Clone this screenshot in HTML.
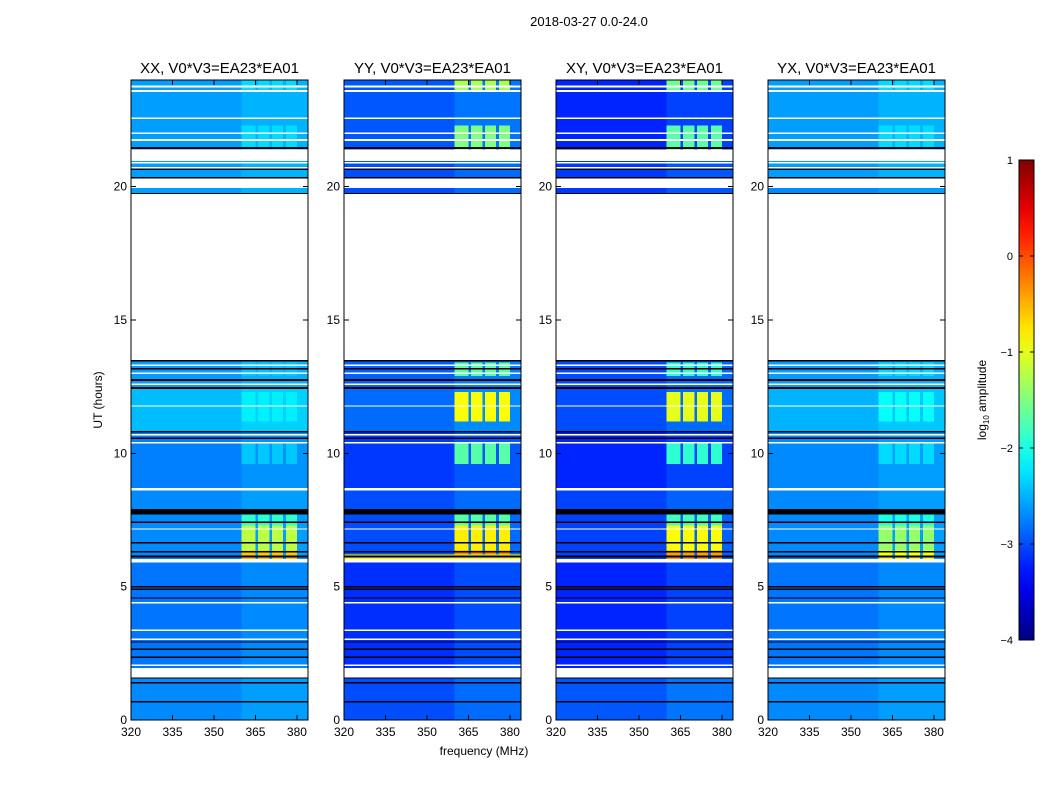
<!DOCTYPE html>
<html><head><meta charset="utf-8">
<style>
html,body{margin:0;padding:0;background:#fff;}
svg{display:block;font-family:"Liberation Sans","DejaVu Sans",sans-serif;}
</style></head>
<body>
<svg id="fig" width="1050" height="800" viewBox="0 0 1050 800">
<text x="589" y="26" font-size="13" text-anchor="middle">2018-03-27 0.0-24.0</text>
<text x="484" y="755" font-size="12" text-anchor="middle">frequency (MHz)</text>
<text transform="translate(102,400) rotate(-90)" font-size="12" text-anchor="middle">UT (hours)</text>
<g id="panels"></g>
<g id="cbar"></g>
</svg>
<script>
// ---- data ----
const panelTitles = ["XX, V0*V3=EA23*EA01","YY, V0*V3=EA23*EA01","XY, V0*V3=EA23*EA01","YX, V0*V3=EA23*EA01"];
const xTicks = [320,335,350,365,380];
const yTicks = [0,5,10,15,20];
const cbarTicks = [-4,-3,-2,-1,0,1];
const segments = [[0,1.6],[1.95,6.0],[6.0,8.66],[8.7,10.8],[10.8,12.45],[12.45,13.5],[19.75,19.95],[20.3,21.4],[21.4,24]];
const levelsXX = [-2.7,-2.8,-2.7,-2.75,-2.45,-2.6,-2.6,-2.6,-2.6];
const levelsYY = [-3.0,-3.15,-3.0,-3.1,-2.85,-2.9,-3.0,-3.0,-2.95];
const levelsXY = [-2.95,-3.2,-3.05,-3.2,-3.0,-3.0,-3.1,-3.1,-3.2];
const levelsYX = [-2.7,-2.8,-2.7,-2.7,-2.5,-2.6,-2.7,-2.6,-2.6];
const broadBand = [360,384];
const broadBoost = [0.1,0.15,0.15,0.1];
const blockFreqs = [[360,365],[366,370],[371,375],[376,380]];
const blockTimes = [[6.0,6.35],[6.35,7.3],[7.3,7.7],[9.6,10.4],[11.2,12.3],[12.9,13.4],[21.4,22.3],[23.55,24]];
const blockXX = [-0.6,-1.2,-1.9,-2.4,-2.2,-2.4,-2.3,-2.3];
const blockYY = [-0.3,-0.8,-1.7,-1.7,-0.9,-1.7,-1.5,-1.3];
const blockXY = [-0.4,-0.9,-1.8,-1.9,-1.0,-1.9,-1.7,-1.6];
const blockYX = [-0.9,-1.4,-2.0,-2.3,-2.1,-2.3,-2.3,-2.3];
const brightLine = [6.04,6.2];
const brightVals = [null,-0.9,null,null];
const whiteRows = [[23.72,23.8],[23.55,23.62],[22.53,22.6],[21.97,22.03],[21.72,21.78],[20.96,21.4],[20.88,20.92],[20.68,20.73],[19.95,20.3],[13.5,19.75],[13.27,13.33],[12.98,13.04],[12.56,12.62],[11.76,11.8],[10.66,10.72],[10.36,10.42],[8.6,8.7],[7.14,7.19],[5.9,6.04],[4.37,4.42],[3.34,3.4],[3.0,3.06],[2.03,2.09],[1.6,1.95]];
const blackRows = [[21.42,21.48],[20.63,20.69],[20.3,20.36],[19.72,19.77],[13.44,13.5],[13.14,13.2],[12.72,12.78],[12.42,12.48],[10.78,10.84],[10.54,10.6],[7.7,7.92],[7.39,7.45],[6.61,6.67],[6.28,6.34],[6.1,6.16],[4.97,5.03],[4.88,4.94],[4.55,4.6],[2.9,2.95],[2.63,2.69],[2.33,2.39],[1.55,1.6],[1.37,1.42],[0.66,0.71]];

const levels = [levelsXX,levelsYY,levelsXY,levelsYX];
const blocks = [blockXX,blockYY,blockXY,blockYX];
// ---- layout ----
const panelX = [131,344,556,768], panelW = 177, plotTop = 80, plotBottom = 720;
const fMin = 320, fMax = 384, tMin = 0, tMax = 24;
const NS = "http://www.w3.org/2000/svg";
function jet(v){
  let t = Math.max(0,Math.min(1,(v+4)/5));
  const c = x => Math.round(255*Math.max(0,Math.min(1,1.5-Math.abs(4*t-x))));
  return `rgb(${c(3)},${c(2)},${c(1)})`;
}
function mk(tag, attrs, parent){
  const e = document.createElementNS(NS, tag);
  for (const k in attrs) e.setAttribute(k, attrs[k]);
  parent.appendChild(e); return e;
}
const root = document.getElementById('panels');
panelTitles.forEach((title, p) => {
  const x0 = panelX[p];
  const xs = f => x0 + (f - fMin) / (fMax - fMin) * panelW;
  const ys = h => plotBottom - (h - tMin) / (tMax - tMin) * (plotBottom - plotTop);
  const g = mk('g', {'shape-rendering':'crispEdges'}, root);
  
  
  const rowRect = (h0, h1, f0, f1, fill, name) => {
    const y1 = ys(h1), y0 = ys(h0);
    const r = mk('rect', {x: xs(f0), y: y1, width: xs(f1)-xs(f0), height: Math.max(1.2, y0-y1), fill}, g);
    
    
  };
  segments.forEach((s, i) => {
    const lv = levels[p][i];
    rowRect(s[0], s[1], fMin, fMax, jet(lv), 'heatmap-segment');
    rowRect(s[0], s[1], broadBand[0], broadBand[1], jet(lv + broadBoost[p]), 'heatmap-band');
  });
  blockTimes.forEach((t, i) => {
    blockFreqs.forEach(bf => rowRect(t[0], t[1], bf[0], bf[1], jet(blocks[p][i]), 'heatmap-block'));
  });
  if (brightVals[p] !== null) rowRect(brightLine[0], brightLine[1], fMin, fMax, jet(brightVals[p]), 'bright-row');
  whiteRows.forEach(r => rowRect(r[0], r[1], fMin, fMax, '#fff', 'flagged-row'));
  blackRows.forEach(r => rowRect(r[0], r[1], fMin, fMax, '#000', 'gap-line'));
  const fr = mk('rect', {x: x0, y: plotTop, width: panelW, height: plotBottom-plotTop, fill:'none', stroke:'#000', 'stroke-width':1}, g);
  
  
  xTicks.forEach(t => {
    const x = xs(t);
    mk('line', {x1:x, x2:x, y1:plotBottom, y2:plotBottom-5, stroke:'#000'}, g);
    mk('line', {x1:x, x2:x, y1:plotTop, y2:plotTop+5, stroke:'#000'}, g);
    const tx = mk('text', {x:x, y:plotBottom+16, 'font-size':12, 'text-anchor':'middle'}, g);
    tx.textContent = t;
    
    
  });
  yTicks.forEach(t => {
    const y = ys(t);
    mk('line', {x1:x0, x2:x0+5, y1:y, y2:y, stroke:'#000'}, g);
    mk('line', {x1:x0+panelW, x2:x0+panelW-5, y1:y, y2:y, stroke:'#000'}, g);
    const tx = mk('text', {x:x0-4, y:y+4, 'font-size':12, 'text-anchor':'end'}, g);
    tx.textContent = t;
    
    
  });
  const tt = mk('text', {x: x0+panelW/2, y: 73, 'font-size':15, 'text-anchor':'middle'}, g);
  tt.textContent = title;
  
  
});
// colorbar
const cb = document.getElementById('cbar');
const cbX = 1019, cbW = 15, cbTop = 160, cbBot = 640;
const cy = v => cbBot - (v + 4) / 5 * (cbBot - cbTop);
const defs = mk('defs', {}, cb);
const grad = mk('linearGradient', {id:'jetg', x1:0, y1:1, x2:0, y2:0}, defs);
for (let i = 0; i <= 20; i++) mk('stop', {offset: i/20, 'stop-color': jet(-4 + 5*i/20)}, grad);
const cbr = mk('rect', {x:cbX, y:cbTop, width:cbW, height:cbBot-cbTop, fill:'url(#jetg)', stroke:'#000', 'stroke-width':1}, cb);


cbarTicks.forEach(t => {
  const y = cy(t);
  mk('line', {x1:cbX, x2:cbX+4, y1:y, y2:y, stroke:'#000'}, cb);
  mk('line', {x1:cbX+cbW, x2:cbX+cbW-4, y1:y, y2:y, stroke:'#000'}, cb);
  const tx = mk('text', {x:cbX-6, y:y+4, 'font-size':11, 'text-anchor':'end'}, cb);
  tx.textContent = t < 0 ? '\u2212' + Math.abs(t) : String(t);
  
  
});
const cl = mk('text', {transform:'translate(986,400) rotate(-90)', 'font-size':12, 'text-anchor':'middle'}, cb);
cl.innerHTML = 'log<tspan font-size="8" dy="3">10</tspan><tspan dy="-3"> amplitude</tspan>';


</script>
</body></html>
